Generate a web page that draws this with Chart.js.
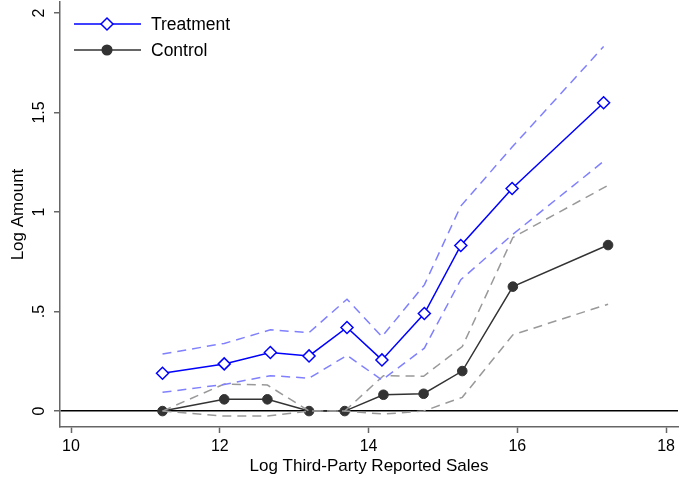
<!DOCTYPE html>
<html>
<head>
<meta charset="utf-8">
<script src="https://cdn.jsdelivr.net/npm/chart.js@4"></script>
<style>
  html, body { margin: 0; padding: 0; background: #fff; }
  #wrap { width: 694px; height: 478px; }
</style>
</head>
<body>
<div id="wrap"><canvas id="myChart" width="694" height="478"></canvas></div>
<script>
// Data
const treatX  = [11.23, 12.06, 12.68, 13.20, 13.71, 14.18, 14.75, 15.24, 15.93, 17.16];
const treatY  = [0.190, 0.237, 0.294, 0.277, 0.420, 0.257, 0.490, 0.832, 1.118, 1.549];
const treatHi = [0.287, 0.340, 0.408, 0.394, 0.562, 0.374, 0.634, 1.030, 1.326, 1.831];
const treatLo = [0.094, 0.134, 0.178, 0.165, 0.280, 0.156, 0.316, 0.660, 0.885, 1.255];

const ctrlX  = [11.23, 12.06, 12.64, 13.20, 13.68, 14.20, 14.74, 15.26, 15.94, 17.22];
const ctrlY  = [0, 0.059, 0.059, 0, 0, 0.082, 0.087, 0.201, 0.625, 0.834];
const ctrlHi = [0, 0.136, 0.131, 0, 0, 0.178, 0.175, 0.324, 0.872, 1.134];
const ctrlLo = [0, -0.025, -0.025, 0, 0, -0.015, 0, 0.069, 0.383, 0.537];

const xTicks = [10, 12, 14, 16, 18];
const yTicks = [0, 0.5, 1, 1.5, 2];
const yTickLabels = ['0', '.5', '1', '1.5', '2'];

const FONT = "'Liberation Sans', Arial, Helvetica, sans-serif";
const AXIS = '#666';

// pair x and y arrays into points
function pts(xs, ys) {
    return xs.map((x, i) => ({ x: x, y: ys[i] }));
}

function dashed(xs, ys, color) {
    return {
        data: pts(xs, ys),
        borderColor: color,
        borderWidth: 1.5,
        borderDash: [9, 6],
        pointRadius: 0,
        fill: false
    };
}

// rotated y labels, axis titles and the legend
const extras = {
    id: 'extras',
    afterDraw(chart) {
        const ctx = chart.ctx;
        const y = chart.scales.y;
        const area = chart.chartArea;
        ctx.save();
        ctx.fillStyle = '#000';
        ctx.font = '16px ' + FONT;
        ctx.textAlign = 'center';
        ctx.textBaseline = 'middle';
        yTicks.forEach((v, i) => {
            ctx.save();
            ctx.translate(40, y.getPixelForValue(v));
            ctx.rotate(-Math.PI / 2);
            ctx.fillText(yTickLabels[i], 0, 0);
            ctx.restore();
        });

        // axis titles
        ctx.font = '17px ' + FONT;
        ctx.save();
        ctx.translate(18, (area.top + area.bottom) / 2);
        ctx.rotate(-Math.PI / 2);
        ctx.fillText('Log Amount', 0, 0);
        ctx.restore();
        ctx.fillText('Log Third-Party Reported Sales', (area.left + area.right) / 2, 466);

        // legend
        const items = [
            { label: 'Treatment', color: '#0000ff', style: 'rectRot', fill: '#fff', r: 6, y: 24 },
            { label: 'Control', color: '#333333', style: 'circle', fill: '#333333', r: 4.8, y: 50 }
        ];
        items.forEach(it => {
            ctx.strokeStyle = it.color;
            ctx.lineWidth = 1.5;
            ctx.beginPath();
            ctx.moveTo(74, it.y);
            ctx.lineTo(141, it.y);
            ctx.stroke();
            ctx.fillStyle = it.fill;
            Chart.helpers.drawPoint(ctx, { pointStyle: it.style, radius: it.r, borderWidth: 1.5, rotation: 0 }, 107, it.y);
            ctx.fillStyle = '#000';
            ctx.textAlign = 'left';
            ctx.font = '17.5px ' + FONT;
            ctx.fillText(it.label, 151, it.y + 1);
        });
        ctx.restore();
    }
};

new Chart(document.getElementById('myChart').getContext('2d'), {
    type: 'line',
    data: {
        datasets: [
            dashed(treatX, treatHi, '#8080ff'),
            dashed(treatX, treatLo, '#8080ff'),
            dashed(ctrlX, ctrlHi, '#999999'),
            dashed(ctrlX, ctrlLo, '#999999'),
            {
                label: 'Control',
                data: pts(ctrlX, ctrlY),
                borderColor: '#333333',
                backgroundColor: '#333333',
                borderWidth: 1.5,
                pointStyle: 'circle',
                pointRadius: 4.8,
                pointBorderWidth: 1
            },
            {
                label: 'Treatment',
                data: pts(treatX, treatY),
                borderColor: '#0000ff',
                backgroundColor: '#ffffff',
                borderWidth: 1.5,
                pointStyle: 'rectRot',
                pointRadius: 6,
                pointBorderWidth: 1.5
            }
        ]
    },
    options: {
        responsive: false,
        animation: false,
        devicePixelRatio: 1,
        layout: { autoPadding: false, padding: { top: 2, right: 16, left: 0, bottom: 0 } },
        plugins: {
            legend: { display: false },
            tooltip: { enabled: false }
        },
        scales: {
            x: {
                type: 'linear',
                min: 9.852,
                max: 18.16,
                afterBuildTicks: s => { s.ticks = xTicks.map(v => ({ value: v })); },
                afterFit: s => { s.height = 51; },
                grid: { drawOnChartArea: false, tickLength: 6, tickColor: AXIS, tickWidth: 1.5 },
                border: { color: AXIS, width: 1.5 },
                ticks: { color: '#000', font: { family: FONT, size: 16 }, padding: 4, maxRotation: 0 }
            },
            y: {
                type: 'linear',
                min: -0.08,
                max: 2.055,
                afterBuildTicks: s => { s.ticks = yTicks.map(v => ({ value: v })); },
                afterFit: s => { s.width = 60; },
                grid: {
                    color: c => (c.tick && c.tick.value === 0) ? '#000' : 'transparent',
                    lineWidth: 1.5,
                    tickLength: 6,
                    tickColor: AXIS,
                    tickWidth: 1.5
                },
                border: { color: AXIS, width: 1.5 },
                ticks: { display: false }
            }
        }
    },
    plugins: [extras]
});
</script>
</body>
</html>
